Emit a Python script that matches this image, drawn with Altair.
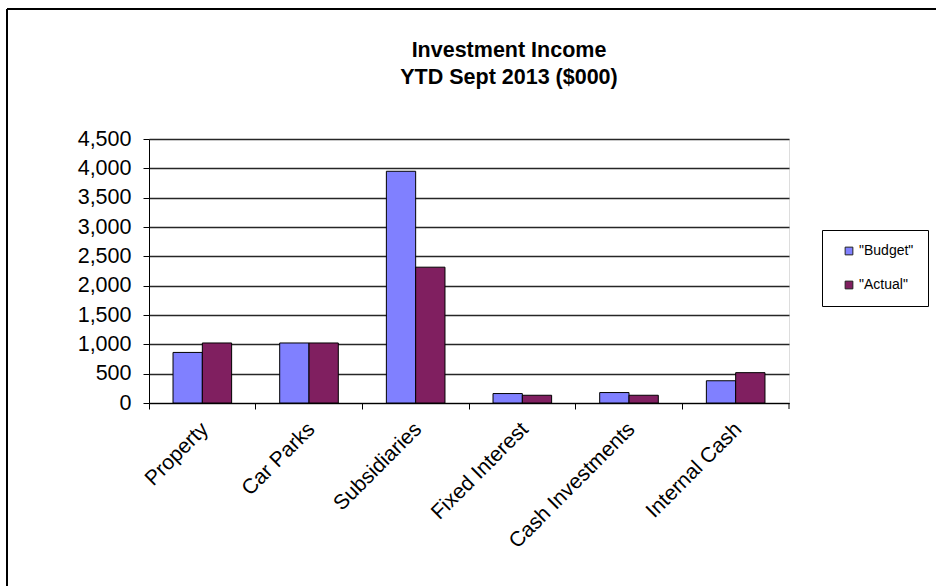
import altair as alt
import pandas as pd

categories = ["Property", "Car Parks", "Subsidiaries", "Fixed Interest", "Cash Investments", "Internal Cash"]
series_names = ['"Budget"', '"Actual"']
budget = [862, 1023, 3950, 161, 178, 379]
actual = [1023, 1023, 2315, 132, 132, 517]
y_ticks = [0, 500, 1000, 1500, 2000, 2500, 3000, 3500, 4000, 4500]
title_text = "Investment Income\nYTD Sept 2013 ($000)"

rows = []
for c, b, a in zip(categories, budget, actual):
    rows.append({"cat": c, "series": series_names[0], "value": b})
    rows.append({"cat": c, "series": series_names[1], "value": a})
df = pd.DataFrame(rows)

W, H = 640, 264
FONT = "Liberation Sans"

x_enc = alt.X("cat:N", sort=categories, title=None,
              scale=alt.Scale(paddingInner=0, paddingOuter=0),
              axis=alt.Axis(labelAngle=-45, labelFontSize=21, labelFont=FONT, labelColor="black",
                            domainColor="black", tickColor="black", tickSize=6, bandPosition=0,
                            labelPadding=9, labelOffset=-5, grid=False))

bars = alt.Chart(df).mark_bar(stroke="black", strokeWidth=1).encode(
    x=x_enc,
    xOffset=alt.XOffset("series:N", sort=series_names,
                        scale=alt.Scale(paddingInner=0, paddingOuter=0.82)),
    y=alt.Y("value:Q", title=None,
            scale=alt.Scale(domain=[0, 4500], nice=False),
            axis=alt.Axis(values=y_ticks, format=",.0f", labelFontSize=21.5, labelFont=FONT,
                          labelColor="black", domainColor="black", tickColor="black",
                          tickSize=6, labelPadding=12, gridColor="#262626", gridWidth=1.3)),
    color=alt.Color("series:N", sort=series_names,
                    scale=alt.Scale(domain=series_names, range=["#8080FF", "#801F60"]),
                    legend=alt.Legend(title=None, orient="none", legendX=673, legendY=91,
                                      padding=14, strokeColor="black", fillColor="white",
                                      symbolType="square", symbolSize=60, symbolOffset=6,
                                      symbolStrokeColor="#222222", symbolStrokeWidth=1,
                                      labelFontSize=14, labelFont=FONT, labelColor="black",
                                      rowPadding=20, labelOffset=3, labelLimit=200)),
)

# extra tick at right end of the x axis
last_tick = alt.Chart(pd.DataFrame({"cat": [categories[-1]]})).mark_rule(color="black").encode(
    x=alt.X("cat:N", sort=categories, bandPosition=1),
    y=alt.value(H), y2=alt.value(H + 6),
)

# chart title as text inside the chart frame
title = alt.Chart(pd.DataFrame({"t": [title_text]})).mark_text(
    font=FONT, fontSize=21.5, fontWeight="bold", color="black", align="center",
    baseline="middle", lineBreak="\n", lineHeight=27,
).encode(text="t:N", x=alt.value(360), y=alt.value(-88))

# outer chart frame (top and left edges)
frame_left = alt.Chart(pd.DataFrame({"a": [0]})).mark_rule(color="black", strokeWidth=2).encode(
    x=alt.value(-142), y=alt.value(-130), y2=alt.value(447))
frame_top = alt.Chart(pd.DataFrame({"a": [0]})).mark_rule(color="black", strokeWidth=2).encode(
    x=alt.value(-142), x2=alt.value(787), y=alt.value(-130))

chart = alt.layer(bars, last_tick, title, frame_left, frame_top).properties(
    width=W, height=H,
    padding={"left": 6, "top": 8, "right": 0, "bottom": 0},
).configure_view(fill="#C0C0C0", stroke="#808080", strokeWidth=1.5).configure(background="white")

chart.save("out.html", embed_options={"renderer": "svg", "actions": False})
